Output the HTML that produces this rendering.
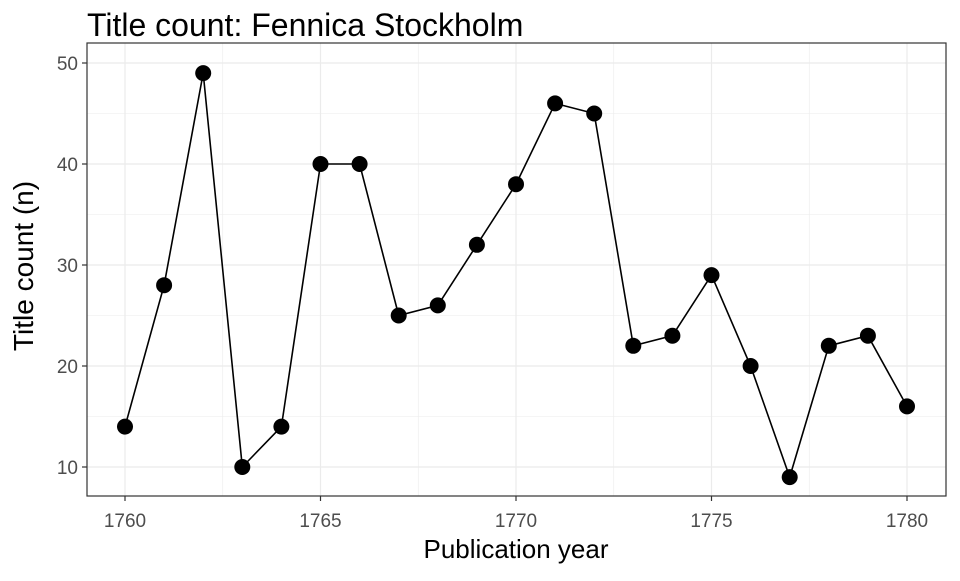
<!DOCTYPE html>
<html><head><meta charset="utf-8"><style>
body{margin:0;background:#fff;font-family:"Liberation Sans",sans-serif}
</style></head><body>
<svg id="chart" width="960" height="576" xmlns="http://www.w3.org/2000/svg">
<defs><clipPath id="pc"><rect x="87" y="43" width="859" height="453"/></clipPath></defs>
<text x="87" y="36" font-size="32" fill="#000">Title count: Fennica Stockholm</text>
<rect x="87" y="43" width="859" height="453" fill="#fff"/>
<g id="grid" clip-path="url(#pc)"></g>
<rect x="87" y="43" width="859" height="453" fill="none" stroke="#333" stroke-width="1.2"/>
<g id="axes"></g>
<g id="marks"></g>
<text x="516" y="558" font-size="26" text-anchor="middle">Publication year</text>
<text transform="translate(33,266) rotate(-90)" font-size="28" text-anchor="middle">Title count (n)</text>
</svg>
<script>
const years=[1760,1761,1762,1763,1764,1765,1766,1767,1768,1769,1770,1771,1772,1773,1774,1775,1776,1777,1778,1779,1780];
const counts=[14,28,49,10,14,40,40,25,26,32,38,46,45,22,23,29,20,9,22,23,16];
const xTicks=[1760,1765,1770,1775,1780];
const yTicks=[10,20,30,40,50];
const NS="http://www.w3.org/2000/svg";
const x=v=>125+(v-1760)*(907-125)/20;
const y=v=>467-(v-10)*(467-63)/40;
function mk(t,a,p){const e=document.createElementNS(NS,t);for(const k in a)e.setAttribute(k,a[k]);p.appendChild(e);return e;}
const grid=document.getElementById('grid'),axes=document.getElementById('axes'),marks=document.getElementById('marks');
for(let v=1757.5;v<=1782.5;v+=2.5){const major=v%5===0;const l=mk('line',{x1:x(v),x2:x(v),y1:43,y2:496,stroke:'#ebebeb','stroke-width':major?1.2:0.6},grid);

}
for(let v=5;v<=55;v+=5){const yy=y(v);if(yy<43||yy>496)continue;const major=v%10===0;const l=mk('line',{x1:87,x2:946,y1:yy,y2:yy,stroke:'#ebebeb','stroke-width':major?1.2:0.6},grid);

}
xTicks.forEach(v=>{const t=mk('line',{x1:x(v),x2:x(v),y1:496,y2:501,stroke:'#333','stroke-width':1.2},axes);


const s=mk('text',{x:x(v),y:527,'font-size':19,fill:'#4d4d4d','text-anchor':'middle'},axes);s.textContent=v;

});
yTicks.forEach(v=>{const t=mk('line',{x1:82,x2:87,y1:y(v),y2:y(v),stroke:'#333','stroke-width':1.2},axes);


const s=mk('text',{x:78,y:y(v)+7,'font-size':19,fill:'#4d4d4d','text-anchor':'end'},axes);s.textContent=v;

});
const path=mk('polyline',{points:years.map((yr,i)=>x(yr)+','+y(counts[i])).join(' '),fill:'none',stroke:'#000','stroke-width':1.6},marks);


years.forEach((yr,i)=>{const c=mk('circle',{cx:x(yr),cy:y(counts[i]),r:8,fill:'#000'},marks);

});
</script>
</body></html>
